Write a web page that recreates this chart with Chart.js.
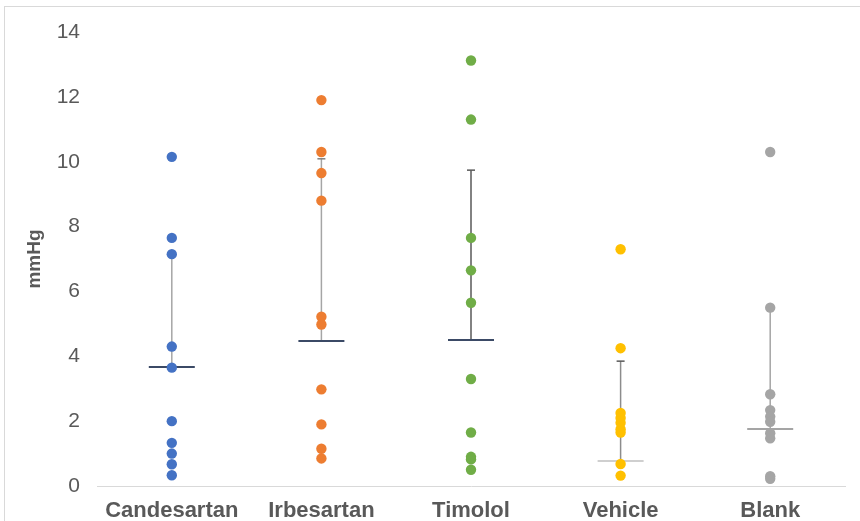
<!DOCTYPE html>
<html>
<head>
<meta charset="utf-8">
<script src="https://cdn.jsdelivr.net/npm/chart.js@4/dist/chart.umd.min.js"></script>
<style>
  html, body { margin: 0; padding: 0; background: #fff; overflow: hidden; }
  #frame { position: absolute; left: 4px; top: 6px; width: 900px; height: 600px; border: 1px solid #d9d9d9; }
  #wrap { position: absolute; left: 0; top: 0; width: 860px; height: 521px; }
</style>
</head>
<body>
<div id="frame"></div>
<div id="wrap"><canvas id="c" width="860" height="521"></canvas></div>
<script>
// Groups along the x axis
const categories = ['Candesartan', 'Irbesartan', 'Timolol', 'Vehicle', 'Blank'];

// Individual measurements (mmHg) per group
const candesartan = [10.15, 7.65, 7.15, 4.3, 3.65, 2.0, 1.33, 1.0, 0.67, 0.33];
const irbesartan  = [11.9, 10.3, 9.65, 8.8, 5.22, 4.98, 2.98, 1.9, 1.15, 0.85];
const timolol     = [13.12, 11.3, 7.65, 6.65, 5.65, 3.3, 1.65, 0.9, 0.82, 0.5];
const vehicle     = [7.3, 4.25, 2.25, 2.1, 1.95, 1.75, 1.65, 0.68, 0.32];
const blank       = [10.3, 5.5, 2.83, 2.34, 2.14, 1.98, 1.63, 1.47, 0.3, 0.22];

// Group centre line and upper end of the error bar
const centreValues = [3.67, 4.47, 4.5, 0.77, 1.76];
const errorTops    = [7.15, 10.09, 9.74, 3.85, 5.5];

// Y axis ticks
const yTicks = [0, 2, 4, 6, 8, 10, 12, 14];

const groups = [candesartan, irbesartan, timolol, vehicle, blank];
const pointColors = ['#4472C4', '#ED7D31', '#70AD47', '#FFC000', '#A5A5A5'];
const centreColors = ['#3B4A66', '#3B4A66', '#3B4A66', '#CFCFCF', '#A5A5A5'];
const stemColors = ['#A5A5A5', '#A5A5A5', '#595959', '#8C8C8C', '#A5A5A5'];
const capColors = ['#A5A5A5', '#7F7F7F', '#595959', '#595959', '#A5A5A5'];

const datasets = groups.map((vals, i) => ({
  label: categories[i],
  data: vals.map(v => ({ x: i, y: v })),
  backgroundColor: pointColors[i],
  borderColor: pointColors[i],
  pointRadius: 5.2,
  pointHoverRadius: 5.2,
  borderWidth: 0
}));

// Error bars and centre lines, drawn beneath the points
const summaryPlugin = {
  id: 'summaryLines',
  beforeDatasetsDraw(chart) {
    const { ctx, scales: { x, y } } = chart;
    ctx.save();
    categories.forEach((_, i) => {
      const px = x.getPixelForValue(i);
      const yc = y.getPixelForValue(centreValues[i]);
      const yt = y.getPixelForValue(errorTops[i]);
      ctx.strokeStyle = stemColors[i];
      ctx.lineWidth = 1.5;
      ctx.beginPath();
      ctx.moveTo(px, yc);
      ctx.lineTo(px, yt);
      ctx.stroke();
      ctx.strokeStyle = capColors[i];
      ctx.beginPath();
      ctx.moveTo(px - 4, yt);
      ctx.lineTo(px + 4, yt);
      ctx.stroke();
      ctx.strokeStyle = centreColors[i];
      ctx.lineWidth = 2;
      ctx.beginPath();
      ctx.moveTo(px - 23, yc);
      ctx.lineTo(px + 23, yc);
      ctx.stroke();
    });
    ctx.restore();
  }
};

new Chart(document.getElementById('c'), {
  type: 'scatter',
  data: { datasets },
  plugins: [summaryPlugin],
  options: {
    responsive: false,
    animation: false,
    events: [],
    layout: { padding: { top: 32, right: 15, left: 0, bottom: 0 } },
    plugins: { legend: { display: false }, tooltip: { enabled: false } },
    scales: {
      x: {
        type: 'linear',
        min: -0.5,
        max: 4.5,
        afterBuildTicks(scale) {
          scale.ticks = categories.map((_, i) => ({ value: i }));
        },
        afterFit(scale) { scale.height = 35; },
        grid: { display: false, drawTicks: false },
        border: { display: true, color: '#D9D9D9', width: 1 },
        ticks: {
          padding: 12,
          color: '#595959',
          font: { family: 'Liberation Sans', size: 22, weight: 'bold' },
          maxRotation: 0,
          autoSkip: false,
          callback: (v) => categories[v]
        }
      },
      y: {
        min: 0,
        max: 14,
        afterBuildTicks(scale) {
          scale.ticks = yTicks.map(v => ({ value: v }));
        },
        afterFit(scale) { scale.width = 97; },
        grid: { display: false, drawTicks: false },
        border: { display: false },
        ticks: {
          padding: 17,
          color: '#595959',
          font: { family: 'Liberation Sans', size: 21 }
        },
        title: {
          display: true,
          text: 'mmHg',
          color: '#595959',
          font: { family: 'Liberation Sans', size: 19, weight: 'bold' },
          padding: { top: 23, bottom: 0 }
        }
      }
    }
  }
});
</script>
</body>
</html>
